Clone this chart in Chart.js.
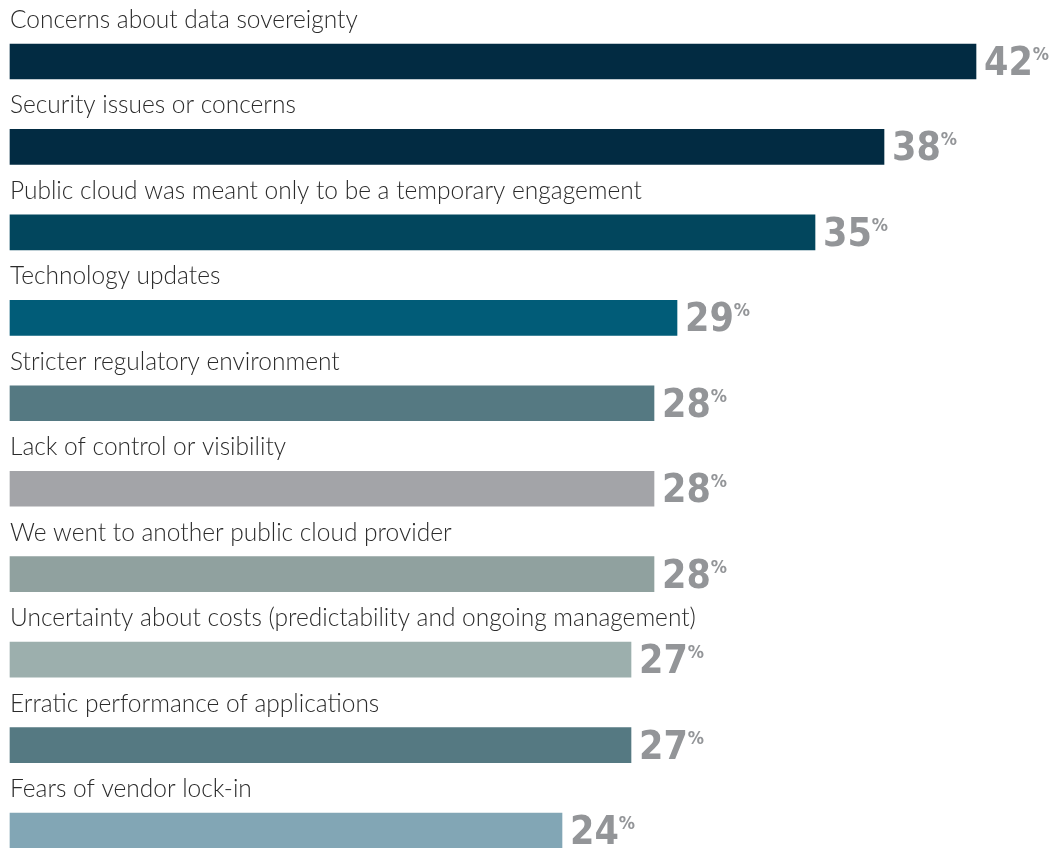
<!DOCTYPE html>
<html>
<head>
<meta charset="utf-8">
<script src="https://cdn.jsdelivr.net/npm/chart.js@4.4.1/dist/chart.umd.min.js"></script>
<style>
  html, body { margin: 0; padding: 0; background: #fff; }
  #wrap { width: 1053px; height: 848px; position: relative; }
</style>
</head>
<body>
<div id="wrap"><canvas id="reasons"></canvas></div>
<script>
// reasons for moving workloads off public cloud
const reasons = [
  'Concerns about data sovereignty',
  'Security issues or concerns',
  'Public cloud was meant only to be a temporary engagement',
  'Technology updates',
  'Stricter regulatory environment',
  'Lack of control or visibility',
  'We went to another public cloud provider',
  'Uncertainty about costs (predictability and ongoing management)',
  'Erratic performance of applications',
  'Fears of vendor lock-in'
];
const shares = [42, 38, 35, 29, 28, 28, 28, 27, 27, 24];
const barColors = [
  '#022b42', '#022b42', '#02465d', '#015c78', '#557982',
  '#a3a4a8', '#90a19f', '#9cafad', '#557982', '#82a6b5'
];

const LABEL_FONT = '300 24.5px Lato, "Open Sans", sans-serif';
const VALUE_FONT = 'bold 39px "Liberation Sans Narrow", "DejaVu Sans Condensed", sans-serif';
const PCT_FONT = 'bold 18px "Liberation Sans Narrow", "DejaVu Sans Condensed", sans-serif';

// category text sits above each bar, value + small % to the right
const barText = {
  id: 'barText',
  afterDatasetsDraw(chart) {
    const ctx = chart.ctx;
    const meta = chart.getDatasetMeta(0);
    ctx.save();
    meta.data.forEach((bar, i) => {
      const top = bar.y - bar.height / 2;
      ctx.font = LABEL_FONT;
      ctx.fillStyle = '#2b2b2b';
      ctx.textAlign = 'left';
      ctx.textBaseline = 'alphabetic';
      ctx.fillText(reasons[i], chart.chartArea.left, top - 16);

      const num = String(shares[i]);
      const x = bar.x + 8;
      ctx.font = VALUE_FONT;
      ctx.fillStyle = '#939598';
      ctx.fillText(num, x, top + 31);
      const w = ctx.measureText(num).width;
      ctx.font = PCT_FONT;
      ctx.fillText('%', x + w, top + 16);
    });
    ctx.restore();
  }
};

const config = {
  type: 'bar',
  data: {
    labels: reasons,
    datasets: [{
      data: shares,
      backgroundColor: barColors,
      borderWidth: 0,
      barThickness: 35,
      clip: false
    }]
  },
  options: {
    indexAxis: 'y',
    responsive: true,
    maintainAspectRatio: false,
    animation: false,
    layout: { padding: { left: 10, right: 8, top: 61.5, bottom: 17.5 } },
    plugins: {
      legend: { display: false },
      tooltip: { enabled: false }
    },
    scales: {
      x: { min: 0, max: 45, display: false, grid: { display: false } },
      y: { display: false, offset: false, grid: { display: false } }
    }
  },
  plugins: [barText]
};

const canvas = document.getElementById('reasons');
var chart = new Chart(canvas, config);
</script>
</body>
</html>
